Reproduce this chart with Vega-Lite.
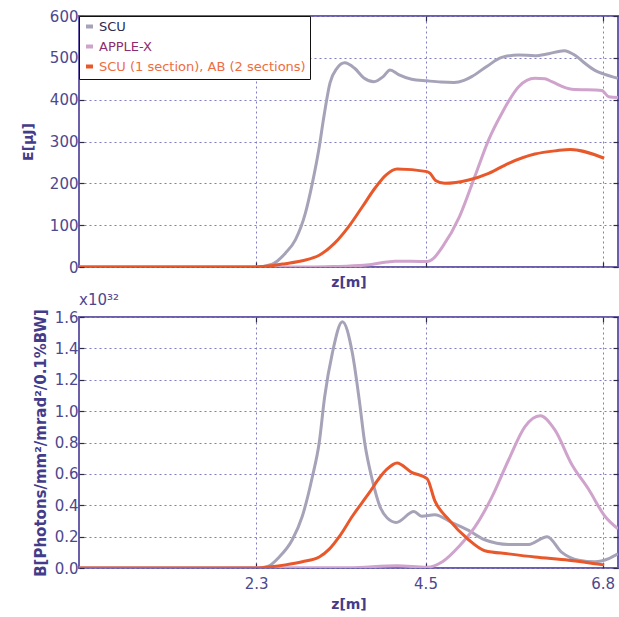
{
  "$schema": "https://vega.github.io/schema/vega-lite/v6.json",
  "padding": {"left": 20, "top": 8, "right": 3, "bottom": 2},
  "spacing": 0,
  "background": "white",
  "config": {
    "font": "DejaVu Sans",
    "view": {"stroke": "#6a5fa8", "strokeWidth": 2},
    "axis": {
      "domain": false,
      "grid": true,
      "gridDash": [2, 3],
      "gridColor": "#7f7dc4",
      "gridWidth": 1,
      "ticks": true,
      "tickSize": -5,
      "tickColor": "#2e2a4a",
      "tickWidth": 1.2,
      "labelFont": "DejaVu Sans",
      "labelFontSize": 15,
      "labelColor": "#4d488e",
      "titleFont": "DejaVu Sans",
      "titleFontSize": 14,
      "titleFontWeight": "bold",
      "titleColor": "#433c8a"
    }
  },
  "datasets": {
    "E": [
      {"z": 0, "v": 0, "s": "SCU"}, {"z": 2.3, "v": 0, "s": "SCU"}, {"z": 2.51, "v": 7, "s": "SCU"}, {"z": 2.68, "v": 33, "s": "SCU"}, {"z": 2.81, "v": 65, "s": "SCU"}, {"z": 2.94, "v": 129, "s": "SCU"}, {"z": 3.03, "v": 200, "s": "SCU"}, {"z": 3.12, "v": 287, "s": "SCU"}, {"z": 3.18, "v": 359, "s": "SCU"}, {"z": 3.26, "v": 440, "s": "SCU"}, {"z": 3.35, "v": 475, "s": "SCU"}, {"z": 3.45, "v": 488, "s": "SCU"}, {"z": 3.58, "v": 475, "s": "SCU"}, {"z": 3.7, "v": 452, "s": "SCU"}, {"z": 3.83, "v": 443, "s": "SCU"}, {"z": 3.95, "v": 455, "s": "SCU"}, {"z": 4.04, "v": 471, "s": "SCU"}, {"z": 4.15, "v": 460, "s": "SCU"}, {"z": 4.32, "v": 449, "s": "SCU"}, {"z": 4.52, "v": 445, "s": "SCU"}, {"z": 4.7, "v": 442, "s": "SCU"}, {"z": 4.87, "v": 441, "s": "SCU"}, {"z": 5.0, "v": 446, "s": "SCU"}, {"z": 5.1, "v": 455, "s": "SCU"}, {"z": 5.3, "v": 480, "s": "SCU"}, {"z": 5.49, "v": 501, "s": "SCU"}, {"z": 5.71, "v": 507, "s": "SCU"}, {"z": 5.92, "v": 505, "s": "SCU"}, {"z": 6.1, "v": 510, "s": "SCU"}, {"z": 6.3, "v": 517, "s": "SCU"}, {"z": 6.45, "v": 505, "s": "SCU"}, {"z": 6.57, "v": 487, "s": "SCU"}, {"z": 6.7, "v": 470, "s": "SCU"}, {"z": 6.82, "v": 461, "s": "SCU"}, {"z": 7.0, "v": 451, "s": "SCU"},
      {"z": 0, "v": 0, "s": "APPLE-X"}, {"z": 3.0, "v": 0, "s": "APPLE-X"}, {"z": 3.3, "v": 1, "s": "APPLE-X"}, {"z": 3.7, "v": 4, "s": "APPLE-X"}, {"z": 4.0, "v": 12, "s": "APPLE-X"}, {"z": 4.1, "v": 14, "s": "APPLE-X"}, {"z": 4.52, "v": 13, "s": "APPLE-X"}, {"z": 4.6, "v": 20, "s": "APPLE-X"}, {"z": 4.72, "v": 48, "s": "APPLE-X"}, {"z": 4.94, "v": 120, "s": "APPLE-X"}, {"z": 5.14, "v": 216, "s": "APPLE-X"}, {"z": 5.32, "v": 304, "s": "APPLE-X"}, {"z": 5.49, "v": 367, "s": "APPLE-X"}, {"z": 5.71, "v": 431, "s": "APPLE-X"}, {"z": 5.92, "v": 451, "s": "APPLE-X"}, {"z": 6.05, "v": 450, "s": "APPLE-X"}, {"z": 6.14, "v": 443, "s": "APPLE-X"}, {"z": 6.4, "v": 425, "s": "APPLE-X"}, {"z": 6.79, "v": 422, "s": "APPLE-X"}, {"z": 6.88, "v": 407, "s": "APPLE-X"}, {"z": 7.0, "v": 405, "s": "APPLE-X"},
      {"z": 0, "v": 0, "s": "SCU (1 section), AB (2 sections)"}, {"z": 2.3, "v": 0, "s": "SCU (1 section), AB (2 sections)"}, {"z": 2.5, "v": 3, "s": "SCU (1 section), AB (2 sections)"}, {"z": 2.68, "v": 8, "s": "SCU (1 section), AB (2 sections)"}, {"z": 2.9, "v": 15, "s": "SCU (1 section), AB (2 sections)"}, {"z": 3.12, "v": 28, "s": "SCU (1 section), AB (2 sections)"}, {"z": 3.32, "v": 57, "s": "SCU (1 section), AB (2 sections)"}, {"z": 3.5, "v": 96, "s": "SCU (1 section), AB (2 sections)"}, {"z": 3.68, "v": 144, "s": "SCU (1 section), AB (2 sections)"}, {"z": 3.85, "v": 190, "s": "SCU (1 section), AB (2 sections)"}, {"z": 3.99, "v": 220, "s": "SCU (1 section), AB (2 sections)"}, {"z": 4.13, "v": 234, "s": "SCU (1 section), AB (2 sections)"}, {"z": 4.52, "v": 228, "s": "SCU (1 section), AB (2 sections)"}, {"z": 4.56, "v": 224, "s": "SCU (1 section), AB (2 sections)"}, {"z": 4.63, "v": 207, "s": "SCU (1 section), AB (2 sections)"}, {"z": 4.75, "v": 200, "s": "SCU (1 section), AB (2 sections)"}, {"z": 5.06, "v": 208, "s": "SCU (1 section), AB (2 sections)"}, {"z": 5.32, "v": 224, "s": "SCU (1 section), AB (2 sections)"}, {"z": 5.58, "v": 248, "s": "SCU (1 section), AB (2 sections)"}, {"z": 5.92, "v": 270, "s": "SCU (1 section), AB (2 sections)"}, {"z": 6.2, "v": 278, "s": "SCU (1 section), AB (2 sections)"}, {"z": 6.38, "v": 281, "s": "SCU (1 section), AB (2 sections)"}, {"z": 6.82, "v": 260, "s": "SCU (1 section), AB (2 sections)"}
    ],
    "B": [
      {"z": 0, "v": 0, "s": "SCU"}, {"z": 2.3, "v": 0, "s": "SCU"}, {"z": 2.45, "v": 0.01, "s": "SCU"}, {"z": 2.6, "v": 0.07, "s": "SCU"}, {"z": 2.77, "v": 0.18, "s": "SCU"}, {"z": 2.9, "v": 0.33, "s": "SCU"}, {"z": 3.03, "v": 0.58, "s": "SCU"}, {"z": 3.12, "v": 0.8, "s": "SCU"}, {"z": 3.19, "v": 1.09, "s": "SCU"}, {"z": 3.29, "v": 1.37, "s": "SCU"}, {"z": 3.42, "v": 1.57, "s": "SCU"}, {"z": 3.55, "v": 1.37, "s": "SCU"}, {"z": 3.64, "v": 1.07, "s": "SCU"}, {"z": 3.71, "v": 0.8, "s": "SCU"}, {"z": 3.81, "v": 0.56, "s": "SCU"}, {"z": 3.91, "v": 0.39, "s": "SCU"}, {"z": 4.0, "v": 0.32, "s": "SCU"}, {"z": 4.12, "v": 0.29, "s": "SCU"}, {"z": 4.35, "v": 0.36, "s": "SCU"}, {"z": 4.45, "v": 0.33, "s": "SCU"}, {"z": 4.62, "v": 0.34, "s": "SCU"}, {"z": 4.84, "v": 0.29, "s": "SCU"}, {"z": 5.06, "v": 0.24, "s": "SCU"}, {"z": 5.27, "v": 0.18, "s": "SCU"}, {"z": 5.58, "v": 0.15, "s": "SCU"}, {"z": 5.84, "v": 0.15, "s": "SCU"}, {"z": 6.08, "v": 0.2, "s": "SCU"}, {"z": 6.27, "v": 0.1, "s": "SCU"}, {"z": 6.49, "v": 0.05, "s": "SCU"}, {"z": 6.7, "v": 0.04, "s": "SCU"}, {"z": 6.88, "v": 0.06, "s": "SCU"}, {"z": 7.0, "v": 0.09, "s": "SCU"},
      {"z": 0, "v": 0, "s": "APPLE-X"}, {"z": 3.5, "v": 0.002, "s": "APPLE-X"}, {"z": 4.13, "v": 0.015, "s": "APPLE-X"}, {"z": 4.52, "v": 0.005, "s": "APPLE-X"}, {"z": 4.72, "v": 0.04, "s": "APPLE-X"}, {"z": 4.94, "v": 0.14, "s": "APPLE-X"}, {"z": 5.14, "v": 0.26, "s": "APPLE-X"}, {"z": 5.36, "v": 0.45, "s": "APPLE-X"}, {"z": 5.58, "v": 0.69, "s": "APPLE-X"}, {"z": 5.79, "v": 0.9, "s": "APPLE-X"}, {"z": 5.99, "v": 0.97, "s": "APPLE-X"}, {"z": 6.18, "v": 0.88, "s": "APPLE-X"}, {"z": 6.4, "v": 0.66, "s": "APPLE-X"}, {"z": 6.62, "v": 0.5, "s": "APPLE-X"}, {"z": 6.83, "v": 0.33, "s": "APPLE-X"}, {"z": 7.0, "v": 0.25, "s": "APPLE-X"},
      {"z": 0, "v": 0, "s": "SCU (1 section), AB (2 sections)"}, {"z": 2.3, "v": 0, "s": "SCU (1 section), AB (2 sections)"}, {"z": 2.5, "v": 0.008, "s": "SCU (1 section), AB (2 sections)"}, {"z": 2.68, "v": 0.02, "s": "SCU (1 section), AB (2 sections)"}, {"z": 2.9, "v": 0.04, "s": "SCU (1 section), AB (2 sections)"}, {"z": 3.12, "v": 0.07, "s": "SCU (1 section), AB (2 sections)"}, {"z": 3.25, "v": 0.12, "s": "SCU (1 section), AB (2 sections)"}, {"z": 3.38, "v": 0.2, "s": "SCU (1 section), AB (2 sections)"}, {"z": 3.55, "v": 0.33, "s": "SCU (1 section), AB (2 sections)"}, {"z": 3.77, "v": 0.48, "s": "SCU (1 section), AB (2 sections)"}, {"z": 3.91, "v": 0.58, "s": "SCU (1 section), AB (2 sections)"}, {"z": 4.0, "v": 0.63, "s": "SCU (1 section), AB (2 sections)"}, {"z": 4.13, "v": 0.67, "s": "SCU (1 section), AB (2 sections)"}, {"z": 4.32, "v": 0.61, "s": "SCU (1 section), AB (2 sections)"}, {"z": 4.52, "v": 0.57, "s": "SCU (1 section), AB (2 sections)"}, {"z": 4.62, "v": 0.43, "s": "SCU (1 section), AB (2 sections)"}, {"z": 4.8, "v": 0.31, "s": "SCU (1 section), AB (2 sections)"}, {"z": 5.06, "v": 0.18, "s": "SCU (1 section), AB (2 sections)"}, {"z": 5.27, "v": 0.11, "s": "SCU (1 section), AB (2 sections)"}, {"z": 5.58, "v": 0.09, "s": "SCU (1 section), AB (2 sections)"}, {"z": 5.92, "v": 0.07, "s": "SCU (1 section), AB (2 sections)"}, {"z": 6.36, "v": 0.05, "s": "SCU (1 section), AB (2 sections)"}, {"z": 6.82, "v": 0.02, "s": "SCU (1 section), AB (2 sections)"}
    ]
  },
  "resolve": {"scale": {"color": "independent"}},
  "vconcat": [
    {
      "width": 539,
      "height": 251,
      "data": {"name": "E"},
      "resolve": {"axis": {"x": "independent", "y": "independent"}},
      "layer": [
        {
          "mark": {"type": "line", "strokeWidth": 3, "interpolate": "monotone", "clip": true},
          "encoding": {
            "x": {"field": "z", "type": "quantitative", "scale": {"domain": [0, 7], "nice": false, "zero": false},
              "axis": {"values": [2.3, 4.5, 6.8], "labels": false, "title": "z[m]", "titlePadding": 8}},
            "y": {"field": "v", "type": "quantitative", "scale": {"domain": [0, 600], "nice": false},
              "axis": {"values": [0, 100, 200, 300, 400, 500, 600], "title": "E[μJ]", "labelPadding": 6, "titlePadding": 14}},
            "color": {"field": "s", "type": "nominal", "sort": null,
              "scale": {"domain": ["SCU", "APPLE-X", "SCU (1 section), AB (2 sections)"], "range": ["#a6a2b8", "#cfa3cc", "#e8582a"]},
              "legend": {
                "title": null, "orient": "top-left", "offset": 0,
                "strokeColor": "#111111", "fillColor": "white", "padding": 4,
                "symbolType": "stroke", "symbolStrokeWidth": 4, "symbolSize": 49,
                "labelFont": "DejaVu Sans", "labelFontSize": 13, "labelOffset": 3, "rowPadding": 3, "labelLimit": 400,
                "encode": {"labels": {"update": {"fill": {"signal": "datum.value === 'SCU' ? '#2c2a4e' : datum.value === 'APPLE-X' ? '#8b2d72' : '#ee6d42'"}}}}
              }
            }
          }
        },
        {
          "mark": {"type": "line", "opacity": 0},
          "encoding": {
            "x": {"field": "z", "type": "quantitative", "scale": {"domain": [0, 7], "nice": false, "zero": false},
              "axis": {"orient": "top", "values": [2.3, 4.5, 6.8], "labels": false, "grid": false, "title": null}},
            "y": {"field": "v", "type": "quantitative", "scale": {"domain": [0, 600], "nice": false},
              "axis": {"orient": "right", "values": [0, 100, 200, 300, 400, 500, 600], "labels": false, "grid": false, "title": null}}
          }
        }
      ]
    },
    {
      "width": 539,
      "height": 251,
      "data": {"name": "B"},
      "title": {"text": "x10³²", "anchor": "start", "frame": "group", "font": "DejaVu Sans", "fontSize": 15, "fontWeight": "normal", "color": "#4d488e", "offset": 1},
      "resolve": {"axis": {"x": "independent", "y": "independent"}},
      "layer": [
        {
          "mark": {"type": "line", "strokeWidth": 3, "interpolate": "monotone", "clip": true},
          "encoding": {
            "x": {"field": "z", "type": "quantitative", "scale": {"domain": [0, 7], "nice": false, "zero": false},
              "axis": {"values": [2.3, 4.5, 6.8], "format": ".1f", "labelPadding": 13, "title": "z[m]", "titlePadding": 6}},
            "y": {"field": "v", "type": "quantitative", "scale": {"domain": [0, 1.6], "nice": false},
              "axis": {"values": [0, 0.2, 0.4, 0.6, 0.8, 1.0, 1.2, 1.4, 1.6], "format": ".1f", "title": "B[Photons/mm²/mrad²/0.1%BW]", "labelPadding": 6, "titlePadding": 6, "titleFontSize": 15}},
            "color": {"field": "s", "type": "nominal", "sort": null,
              "scale": {"domain": ["SCU", "APPLE-X", "SCU (1 section), AB (2 sections)"], "range": ["#a6a2b8", "#cfa3cc", "#e8582a"]},
              "legend": null
            }
          }
        },
        {
          "mark": {"type": "line", "opacity": 0},
          "encoding": {
            "x": {"field": "z", "type": "quantitative", "scale": {"domain": [0, 7], "nice": false, "zero": false},
              "axis": {"orient": "top", "values": [2.3, 4.5, 6.8], "labels": false, "grid": false, "title": null}},
            "y": {"field": "v", "type": "quantitative", "scale": {"domain": [0, 1.6], "nice": false},
              "axis": {"orient": "right", "values": [0, 0.2, 0.4, 0.6, 0.8, 1.0, 1.2, 1.4, 1.6], "labels": false, "grid": false, "title": null}}
          }
        }
      ]
    }
  ]
}
